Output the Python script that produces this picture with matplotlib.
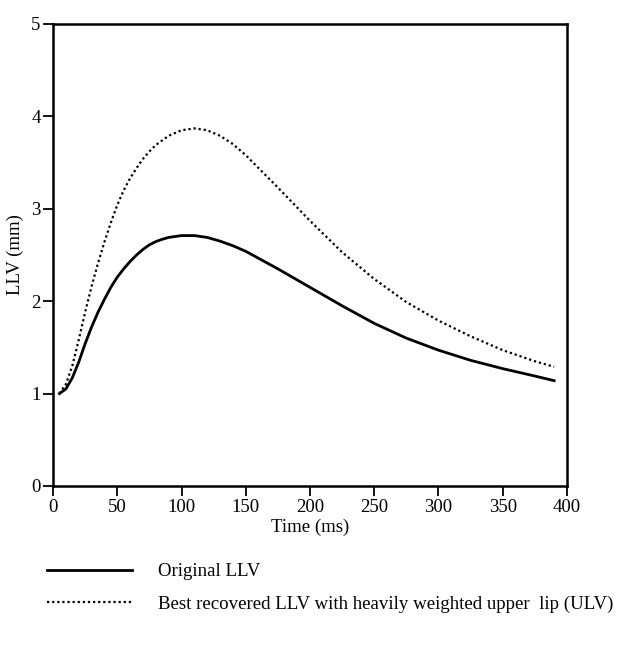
import matplotlib
matplotlib.use('Agg')
import matplotlib.pyplot as plt

# values
t_orig = [5, 10, 15, 20, 25, 30, 35, 40, 45, 50, 55, 60, 65, 70, 75, 80, 85, 90, 100,
          110, 120, 130, 140, 150, 175, 200, 225, 250, 275, 300, 325, 350, 375, 390]
llv_orig = [1.0, 1.05, 1.17, 1.34, 1.54, 1.72, 1.88, 2.02, 2.15, 2.26, 2.35, 2.43,
            2.50, 2.56, 2.61, 2.645, 2.67, 2.69, 2.71, 2.71, 2.69, 2.65, 2.60, 2.54,
            2.35, 2.15, 1.95, 1.76, 1.60, 1.47, 1.36, 1.27, 1.19, 1.14]

t_rec = [5, 10, 15, 20, 25, 30, 35, 40, 45, 50, 55, 60, 65, 70, 75, 80, 90, 100, 110,
         120, 130, 140, 150, 175, 200, 225, 250, 275, 300, 325, 350, 375, 390]
llv_rec = [1.0, 1.1, 1.3, 1.58, 1.88, 2.16, 2.41, 2.64, 2.85, 3.04, 3.20, 3.33,
           3.44, 3.54, 3.62, 3.69, 3.79, 3.85, 3.87, 3.85, 3.79, 3.70, 3.58, 3.23,
           2.87, 2.53, 2.24, 1.99, 1.79, 1.62, 1.47, 1.35, 1.29]

x_ticks = [0, 50, 100, 150, 200, 250, 300, 350, 400]
y_ticks = [0, 1, 2, 3, 4, 5]

plt.rcParams['font.family'] = ['Liberation Serif', 'DejaVu Serif']

fig = plt.figure(figsize=(6.2, 6.48), dpi=100)
ax = fig.add_axes([0.0855, 0.25, 0.829, 0.713])

ax.plot(t_orig, llv_orig, color='black', lw=2.0, label='Original LLV')
ax.plot(t_rec, llv_rec, color='black', lw=1.6, linestyle=(0, (1, 1.3)),
        label='Best recovered LLV with heavily weighted upper  lip (ULV)')

ax.set_xlim(0, 400)
ax.set_ylim(0, 5)
ax.set_xticks(x_ticks)
ax.set_yticks(y_ticks)
ax.tick_params(direction='out', length=7, width=1.3, labelsize=13.5, pad=2)
for s in ax.spines.values():
    s.set_linewidth(1.8)

ax.set_xlabel('Time (ms)', fontsize=13.5, labelpad=2)
ax.set_ylabel('LLV (mm)', fontsize=13.5, labelpad=5)

ax.legend(loc='upper left', bbox_to_anchor=(-0.045, -0.13), frameon=False,
          fontsize=13.6, handlelength=4.5, handletextpad=1.4, labelspacing=0.8)

fig.savefig('out.png', dpi=100, facecolor='white')
